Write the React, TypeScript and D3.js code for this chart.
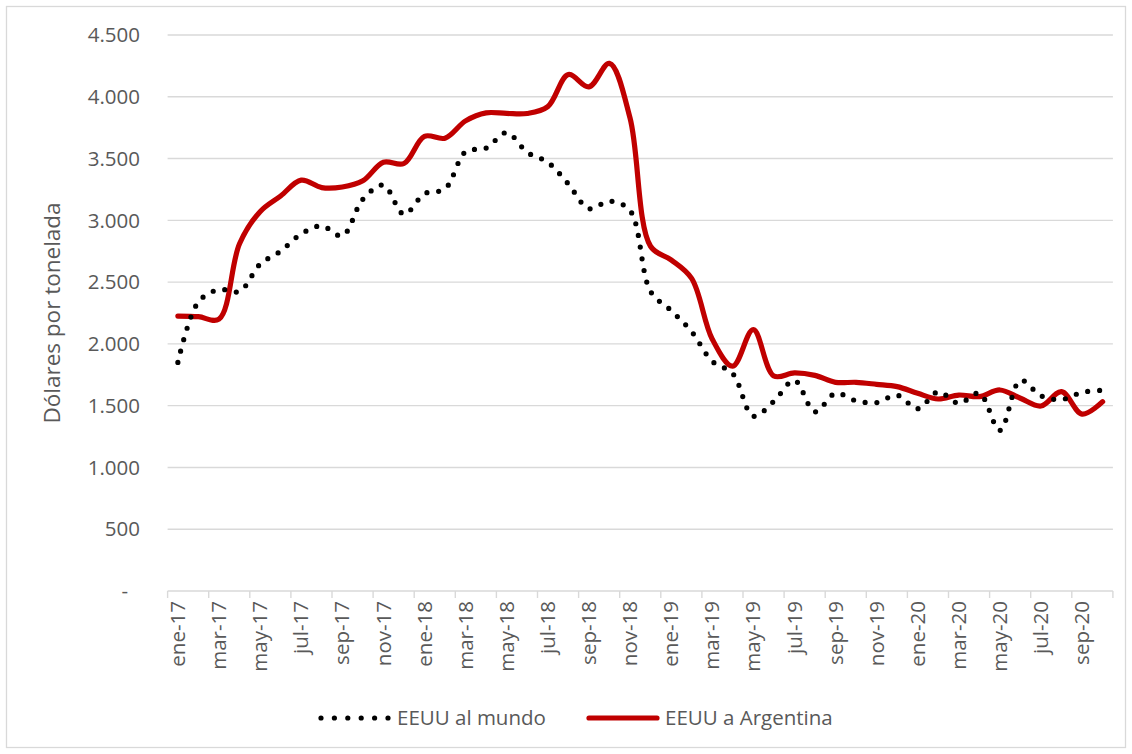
import React from "react";
import * as d3 from "d3";

const monthNames = ["ene", "feb", "mar", "abr", "may", "jun", "jul", "ago", "sep", "oct", "nov", "dic"];
const months: string[] = [];
for (let yy = 17; yy <= 20; yy++) {
  for (let m = 0; m < 12; m++) {
    if (yy === 20 && m > 9) break;
    months.push(`${monthNames[m]}-${yy}`);
  }
}

const world = [
  1850, 2340, 2440, 2425, 2645, 2750, 2890, 2955, 2875, 3170, 3285, 3050,
  3215, 3255, 3555, 3585, 3710, 3550, 3470, 3295, 3095, 3155, 3080, 2425,
  2270, 2100, 1860, 1760, 1415, 1535, 1705, 1450, 1600, 1540, 1525, 1585,
  1475, 1612, 1519, 1600, 1300, 1705, 1580, 1550, 1608, 1625,
];

const argentina = [
  2225, 2220, 2200, 2810, 3070, 3197, 3325, 3265, 3270, 3320, 3470, 3460,
  3680, 3665, 3805, 3870, 3865, 3865, 3920, 4180, 4080, 4270, 3830, 2790,
  2680, 2530, 2040, 1820, 2115, 1740, 1765, 1745, 1689, 1689, 1673, 1654,
  1600, 1554, 1586, 1573, 1627, 1560, 1497, 1613, 1432, 1532,
];

const yTicks = [0, 500, 1000, 1500, 2000, 2500, 3000, 3500, 4000, 4500];
const seriesNames = ["EEUU al mundo", "EEUU a Argentina"];
const yTitle = "Dólares por tonelada";

const W = 1132;
const H = 754;
const FONT = "'Open Sans', sans-serif";
const TXT = "#595959";
const GRID = "#d9d9d9";
const RED = "#c00000";

const locale = d3.formatLocale({ decimal: ",", thousands: ".", grouping: [3], currency: ["", ""] });
const fmt = locale.format(",");

export default function App() {
  const x = d3.scaleBand<string>().domain(months).range([167.6, 1112.9]).padding(0);
  const bw = x.bandwidth();
  const cx = (i: number) => (x(months[i]) as number) + bw / 2;
  const y = d3.scaleLinear().domain([0, 4500]).range([591, 35]);

  const line = d3
    .line<number>()
    .x((_, i) => cx(i))
    .y((d) => y(d))
    .curve(d3.curveCatmullRom.alpha(0.5));

  const tickIdx = months.map((_, i) => i).filter((i) => i % 2 === 0);

  return (
    <svg width={W} height={H} style={{ position: "absolute", left: 0, top: 0, background: "#fff" }} fontFamily={FONT}>
      <rect x={6.5} y={6.5} width={W - 13} height={H - 13} fill="#fff" stroke={GRID} strokeWidth={1.3} />
      {yTicks.filter((t) => t > 0).map((t) => (
        <line key={t} x1={167.6} x2={1112.9} y1={y(t)} y2={y(t)} stroke={GRID} strokeWidth={1.4} />
      ))}
      {yTicks.map((t) => (
        <text key={"l" + t} x={t === 0 ? 128 : 140} y={y(t)} dy="0.35em" textAnchor="end" fontSize={20.5} fill={TXT}>
          {t === 0 ? "-" : fmt(t)}
        </text>
      ))}
      <text transform={`translate(60,${(y(0) + y(4500)) / 2}) rotate(-90)`} textAnchor="middle" fontSize={22.5} fill={TXT}>
        {yTitle}
      </text>
      <line x1={167.6} x2={1112.9} y1={591} y2={591} stroke={GRID} strokeWidth={1.4} />
      {d3.range(0, months.length + 1, 2).map((k) => {
        const xx = 167.6 + k * bw;
        return <line key={"t" + k} x1={xx} x2={xx} y1={591} y2={598} stroke={GRID} strokeWidth={1.4} />;
      })}
      {tickIdx.map((i) => (
        <text
          key={"x" + i}
          transform={`translate(${cx(i)},601) rotate(-90)`}
          dy="0.35em"
          textAnchor="end"
          fontSize={20.5}
          fill={TXT}
        >
          {months[i]}
        </text>
      ))}
      <path d={line(argentina) || ""} fill="none" stroke={RED} strokeWidth={5.2} strokeLinejoin="round" strokeLinecap="round" />
      <path
        d={line(world) || ""}
        fill="none"
        stroke="#000"
        strokeWidth={5.2}
        strokeDasharray="0 11.8"
        strokeLinecap="round"
      />
      <g>
        <line x1={321} x2={388} y1={718} y2={718} stroke="#000" strokeWidth={5.2} strokeDasharray="0 13.4" strokeLinecap="round" />
        <text x={397} y={718} dy="0.35em" fontSize={20.5} fill={TXT}>
          {seriesNames[0]}
        </text>
        <line x1={589} x2={657} y1={718} y2={718} stroke={RED} strokeWidth={5.2} strokeLinecap="round" />
        <text x={665} y={718} dy="0.35em" fontSize={20.5} fill={TXT}>
          {seriesNames[1]}
        </text>
      </g>
    </svg>
  );
}
